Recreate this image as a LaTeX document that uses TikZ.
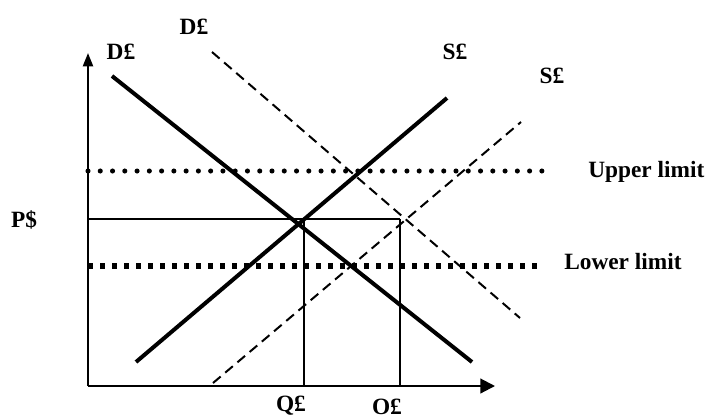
\documentclass[tikz,border=0pt]{standalone}
\usepackage{fontspec}
\setmainfont{Liberation Serif}
\usetikzlibrary{arrows.meta}
\begin{document}
\begin{tikzpicture}[x=0.75pt,y=-0.75pt,
    curve/.style={line width=3pt},
    shifted/.style={line width=1.5pt,dash pattern=on 7.5pt off 4.5pt},
    guide/.style={line width=1.3pt},
    lbl/.style={font=\fontsize{17.5}{19}\selectfont\bfseries,inner sep=0pt}]
    \useasboundingbox (0,0) rectangle (707,419);

    \coordinate (origin) at (88,386);
    \coordinate (ytop) at (88,53);
    \coordinate (xend) at (495,386);
    \draw[line width=1.6pt,-{Triangle[length=10pt,width=7.5pt]}] (origin) -- (ytop);
    \draw[line width=1.6pt,-{Triangle[length=11pt,width=11pt]}] (origin) -- (xend);

    \coordinate (dstart) at (112,76);   \coordinate (dend) at (472,362);
    \coordinate (sstart) at (136,362);  \coordinate (send) at (447,98);
    \coordinate (ndstart) at (212,52);  \coordinate (ndend) at (520,318);
    \coordinate (nsstart) at (213,383); \coordinate (nsend) at (521,122);

    \draw[curve] (dstart) -- (dend);
    \draw[curve] (sstart) -- (send);
    \draw[shifted] (ndstart) -- (ndend);
    \draw[shifted] (nsstart) -- (nsend);

    \coordinate (upa) at (88,171);  \coordinate (upb) at (545,171);
    \coordinate (loa) at (88,266);  \coordinate (lob) at (538,266);
    \draw[line width=3.8pt,line cap=round,dash pattern=on 0pt off 9.2pt] (upa) -- (upb);
    \draw[line width=4.5pt,dash pattern=on 3.9pt off 5.1pt] (loa) -- (lob);

    \coordinate (pa) at (88,219);   \coordinate (pb) at (400,219);
    \coordinate (qa) at (304,219);  \coordinate (qb) at (304,386);
    \coordinate (oa) at (400,219);  \coordinate (ob) at (400,386);
    \draw[guide] (pa) -- (pb);
    \draw[guide] (qa) -- (qb);
    \draw[guide] (oa) -- (ob);

    \node[lbl] (dnew) at (194,27) {D£};
    \node[lbl] (dold) at (121,52) {D£};
    \node[lbl] (sold) at (455,52) {S£};
    \node[lbl] (snew) at (552,76) {S£};
    \node[lbl] (price) at (24,220) {P\$};
    \node[lbl,anchor=west] (upper) at (588,172) {Upper limit};
    \node[lbl,anchor=west] (lower) at (564,262) {Lower limit};
    \node[lbl] (qty) at (291,406) {Q£};
    \node[lbl] (oty) at (387,407) {O£};
\end{tikzpicture}
\end{document}
